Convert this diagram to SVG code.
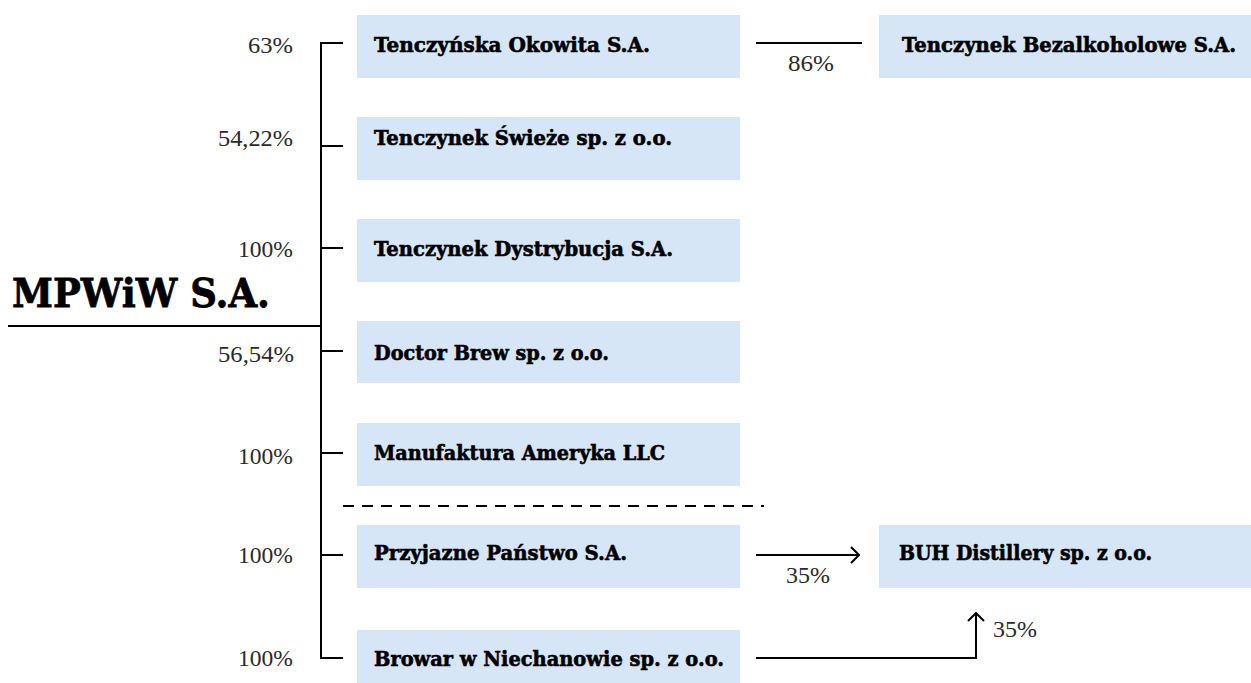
<svg xmlns="http://www.w3.org/2000/svg" width="1251" height="683" viewBox="0 0 1251 683">
<defs>
<style>
.box{fill:#d7e6f6;}
.name{font-family:"DejaVu Serif","Liberation Serif",serif;font-weight:bold;font-size:20px;fill:#000;stroke:#000;stroke-width:0.6;}
.pct{font-family:"Liberation Serif","DejaVu Serif",serif;font-size:23px;fill:#2a2a2a;}
.ln{stroke:#000;stroke-width:2;fill:none;}
.title{font-family:"DejaVu Serif","Liberation Serif",serif;font-weight:bold;font-size:40px;fill:#000;stroke:#000;stroke-width:0.8;}
</style>
<marker id="arr" markerUnits="userSpaceOnUse" viewBox="0 0 10 18" refX="9" refY="9" markerWidth="10" markerHeight="18" orient="auto">
<path d="M1,1 L9,9 L1,17" fill="none" stroke="#000" stroke-width="2"/>
</marker>
</defs>
<rect width="1251" height="683" fill="#fff"/>

<g id="parent">
<text class="title" x="12" y="307" textLength="258" lengthAdjust="spacingAndGlyphs">MPWiW S.A.</text>
</g>

<g id="connectors">
<path class="ln" d="M8,326 H321"/>
<path class="ln" d="M343,43 H321 V658 H343"/>
<path class="ln" d="M321,146 H343 M321,248 H343 M321,351 H343 M321,453 H343 M321,555 H343"/>
<path class="ln" d="M343,506 H764" stroke-dasharray="11 8"/>
<path class="ln" d="M756,43 H862"/>
<path class="ln" d="M756,555 H859" marker-end="url(#arr)"/>
<path class="ln" d="M756,658 H976 V613" marker-end="url(#arr)"/>
<text class="pct" x="293" y="53" text-anchor="end" textLength="45" lengthAdjust="spacingAndGlyphs">63%</text>
<text class="pct" x="293" y="146" text-anchor="end" textLength="75" lengthAdjust="spacingAndGlyphs">54,22%</text>
<text class="pct" x="293" y="257" text-anchor="end" textLength="55" lengthAdjust="spacingAndGlyphs">100%</text>
<text class="pct" x="294" y="362" text-anchor="end" textLength="76" lengthAdjust="spacingAndGlyphs">56,54%</text>
<text class="pct" x="293" y="464" text-anchor="end" textLength="55" lengthAdjust="spacingAndGlyphs">100%</text>
<text class="pct" x="293" y="563" text-anchor="end" textLength="55" lengthAdjust="spacingAndGlyphs">100%</text>
<text class="pct" x="293" y="666" text-anchor="end" textLength="55" lengthAdjust="spacingAndGlyphs">100%</text>
<text class="pct" x="788" y="71" textLength="46" lengthAdjust="spacingAndGlyphs">86%</text>
<text class="pct" x="786" y="583" textLength="44" lengthAdjust="spacingAndGlyphs">35%</text>
<text class="pct" x="993" y="637" textLength="44" lengthAdjust="spacingAndGlyphs">35%</text>
</g>

<g id="n1"><rect class="box" x="357" y="15" width="383" height="63"/><text class="name" x="374" y="52" textLength="276" lengthAdjust="spacingAndGlyphs">Tenczyńska Okowita S.A.</text></g>
<g id="n2"><rect class="box" x="357" y="117" width="383" height="63"/><text class="name" x="374" y="145" textLength="298" lengthAdjust="spacingAndGlyphs">Tenczynek Świeże sp. z o.o.</text></g>
<g id="n3"><rect class="box" x="357" y="219" width="383" height="63"/><text class="name" x="374" y="256" textLength="299" lengthAdjust="spacingAndGlyphs">Tenczynek Dystrybucja S.A.</text></g>
<g id="n4"><rect class="box" x="357" y="321" width="383" height="62"/><text class="name" x="374" y="360" textLength="235" lengthAdjust="spacingAndGlyphs">Doctor Brew sp. z o.o.</text></g>
<g id="n5"><rect class="box" x="357" y="423" width="383" height="63"/><text class="name" x="374" y="460" textLength="291" lengthAdjust="spacingAndGlyphs">Manufaktura Ameryka LLC</text></g>
<g id="n6"><rect class="box" x="357" y="525" width="383" height="63"/><text class="name" x="374" y="560" textLength="253" lengthAdjust="spacingAndGlyphs">Przyjazne Państwo S.A.</text></g>
<g id="n7"><rect class="box" x="357" y="630" width="383" height="63"/><text class="name" x="374" y="666" textLength="350" lengthAdjust="spacingAndGlyphs">Browar w Niechanowie sp. z o.o.</text></g>
<g id="n8"><rect class="box" x="879" y="15" width="372" height="63"/><text class="name" x="902" y="52" textLength="334" lengthAdjust="spacingAndGlyphs">Tenczynek Bezalkoholowe S.A.</text></g>
<g id="n9"><rect class="box" x="879" y="525" width="372" height="63"/><text class="name" x="899" y="560" textLength="253" lengthAdjust="spacingAndGlyphs">BUH Distillery sp. z o.o.</text></g>
</svg>
